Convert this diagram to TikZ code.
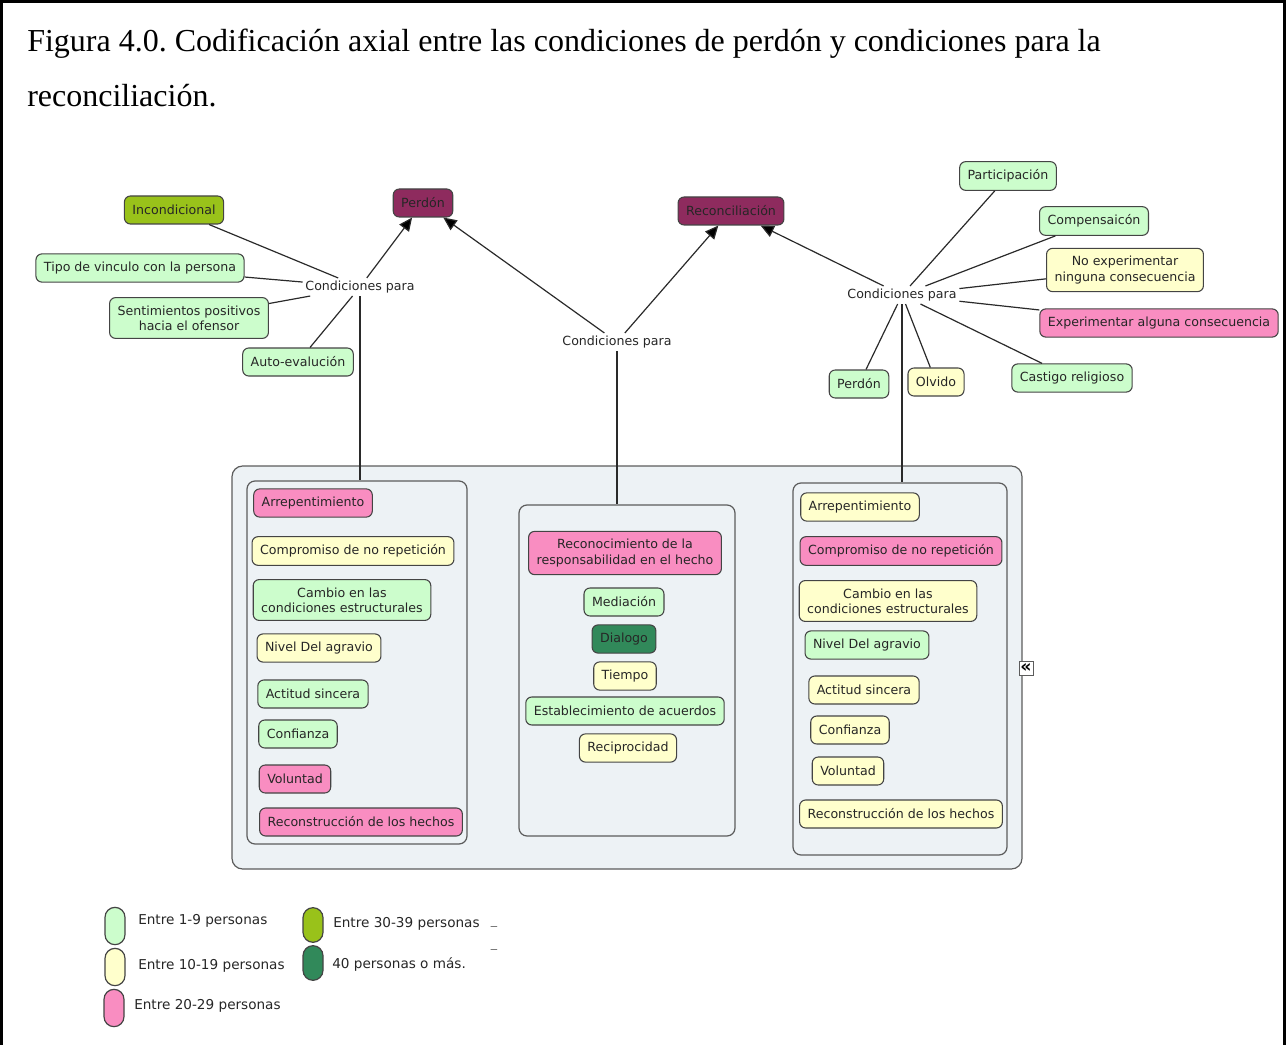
\documentclass[tikz,border=0pt]{standalone}
\usepackage{fontspec}
\setmainfont{Liberation Serif}
\newfontfamily\dv{DejaVu Sans}
\usetikzlibrary{arrows.meta,fit}
\frenchspacing

\definecolor{cgreen}{HTML}{CCFDCC}
\definecolor{cyellow}{HTML}{FFFFCC}
\definecolor{cpink}{HTML}{F98DC1}
\definecolor{cmag}{HTML}{8E2B5E}
\definecolor{colive}{HTML}{99C21A}
\definecolor{cdark}{HTML}{31895A}
\definecolor{boxline}{HTML}{444444}
\definecolor{linecol}{HTML}{2A2A2A}
\definecolor{grpfill}{HTML}{EDF2F5}
\definecolor{grpline}{HTML}{5C5C5C}

\tikzset{
  maptxt/.style={font=\dv\fontsize{9.45}{11.3}\selectfont, text=black!85},
  box/.style={maptxt, draw=boxline, line width=0.8pt, rounded corners=4.5pt,
    inner xsep=6pt, inner ysep=6pt, minimum height=21pt, align=center},
  bgreen/.style={box, fill=cgreen},
  byellow/.style={box, fill=cyellow},
  bpink/.style={box, fill=cpink},
  bmag/.style={box, fill=cmag},
  bolive/.style={box, fill=colive},
  bdark/.style={box, fill=cdark},
  lab/.style={maptxt, inner sep=2pt},
  link/.style={draw=linecol, line width=0.9pt},
  arr/.style={link, -{Triangle[length=10pt,width=9pt,fill=black]}},
  grp/.style={draw=grpline, fill=grpfill, rounded corners=6pt, line width=0.9pt, inner sep=0pt},
  legcap/.style={draw=boxline, line width=0.9pt, minimum width=15pt, minimum height=28pt, rounded corners=7.5pt, inner sep=0pt},
  legtxt/.style={maptxt, font=\dv\fontsize{10.2}{12}\selectfont, anchor=west, inner sep=0pt},
  ttl/.style={font=\fontsize{24}{24}\selectfont, anchor=base west, inner sep=0pt},
}

\begin{document}
\begin{tikzpicture}[x=0.75pt,y=-0.75pt]
\useasboundingbox (0,0) rectangle (1286,1045);

% outer frame (open at the bottom)
\draw[line width=2.2pt] (1.5,1046) -- (1.5,1.5) -- (1284.5,1.5) -- (1284.5,1046);

% caption
\node[ttl] (title1) at (27,52) {Figura 4.0. Codificación axial entre las condiciones de perdón y condiciones para la};
\node[ttl] (title2) at (27,107) {reconciliación.};

% container and the three groups of conditions
\node[grp, rounded corners=8pt, fit={(232,466) (1022,869)}] (cont) {};
\node[grp, fit={(247,481) (467,844)}] (lg) {};
\node[grp, fit={(519,505) (735,836)}] (mg) {};
\node[grp, fit={(793,483) (1007,855)}] (rg) {};
\node[draw=grpline, fill=white, line width=0.6pt, inner sep=0pt, minimum size=10.5pt, font=\dv\bfseries\fontsize{13}{13}\selectfont] (collapse) at (1026,668) {«};

% top concepts
\node[bmag] (perdon) at (423,203) {Perdón};
\node[bmag] (recon) at (731,211) {Reconciliación};

% linking labels
\node[lab] (lc) at (360,287) {Condiciones para};
\node[lab] (mc) at (617,342) {Condiciones para};
\node[lab] (rc) at (902,295) {Condiciones para};

% left cluster
\node[bolive] (incond) at (174,210) {Incondicional};
\node[bgreen] (tipo) at (140,268) {Tipo de vinculo con la persona};
\node[bgreen] (senti) at (189,318) {Sentimientos positivos\\hacia el ofensor};
\node[bgreen] (autoev) at (298,362) {Auto-evalución};

% right cluster
\node[bgreen] (partic) at (1008,176) {Participación};
\node[bgreen] (compens) at (1094,221) {Compensaicón};
\node[byellow] (noexp) at (1125,270) {No experimentar\\ninguna consecuencia};
\node[bpink] (exp) at (1159,323) {Experimentar alguna consecuencia};
\node[bgreen] (castigo) at (1072,378) {Castigo religioso};
\node[bgreen] (perdonr) at (859,384) {Perdón};
\node[byellow] (olvido) at (936,382) {Olvido};

% left group
\node[bpink] (l1) at (313,503) {Arrepentimiento};
\node[byellow] (l2) at (353,551) {Compromiso de no repetición};
\node[bgreen] (l3) at (342,600) {Cambio en las\\condiciones estructurales};
\node[byellow] (l4) at (319,648) {Nivel Del agravio};
\node[bgreen] (l5) at (313,694) {Actitud sincera};
\node[bgreen] (l6) at (298,734) {Confianza};
\node[bpink] (l7) at (295,779) {Voluntad};
\node[bpink] (l8) at (361,822) {Reconstrucción de los hechos};

% middle group
\node[bpink] (m1) at (625,553) {Reconocimiento de la\\responsabilidad en el hecho};
\node[bgreen] (m2) at (624,602) {Mediación};
\node[bdark] (m3) at (624,639) {Dialogo};
\node[byellow] (m4) at (625,676) {Tiempo};
\node[bgreen] (m5) at (625,711) {Establecimiento de acuerdos};
\node[byellow] (m6) at (628,748) {Reciprocidad};

% right group
\node[byellow] (r1) at (860,507) {Arrepentimiento};
\node[bpink] (r2) at (901,551) {Compromiso de no repetición};
\node[byellow] (r3) at (888,601) {Cambio en las\\condiciones estructurales};
\node[bgreen] (r4) at (867,645) {Nivel Del agravio};
\node[byellow] (r5) at (864,690) {Actitud sincera};
\node[byellow] (r6) at (850,730) {Confianza};
\node[byellow] (r7) at (848,771) {Voluntad};
\node[byellow] (r8) at (901,814) {Reconstrucción de los hechos};

% connectors: left
\draw[link] (incond) -- (lc);
\draw[link] (tipo) -- (lc);
\draw[link] (senti) -- (lc);
\draw[link] (autoev) -- (lc);
\draw[arr] (lc) -- (perdon);
\draw[link] (lc) -- (lc |- lg.north);

% connectors: middle
\draw[arr] (mc) -- (perdon);
\draw[arr] (mc) -- (recon);
\draw[link] (mc) -- (mc |- mg.north);

% connectors: right
\draw[arr] (rc) -- (recon);
\draw[link] (rc) -- (partic);
\draw[link] (rc) -- (compens);
\draw[link] (rc) -- (noexp);
\draw[link] (rc) -- (exp);
\draw[link] (rc) -- (castigo);
\draw[link] (rc) -- (perdonr);
\draw[link] (rc) -- (olvido);
\draw[link] (rc) -- (rc |- rg.north);

% legend
\node[legcap, fill=cgreen] (k1) at (115,926) {};
\node[legcap, fill=cyellow] (k2) at (115,967) {};
\node[legcap, fill=cpink] (k3) at (114,1008) {};
\node[legcap, fill=colive, minimum height=26pt] (k4) at (313,925) {};
\node[legcap, fill=cdark, minimum height=26pt] (k5) at (313,963) {};
\node[legtxt] (t1) at (138,921) {Entre 1-9 personas};
\node[legtxt] (t2) at (138,966) {Entre 10-19 personas};
\node[legtxt] (t3) at (134,1006) {Entre 20-29 personas};
\node[legtxt] (t4) at (333,924) {Entre 30-39 personas};
\node[legtxt] (t5) at (332,964) {40 personas o más.};
\node[maptxt, text=black!60, inner sep=0pt] (u1) at (494,926) {\_};
\node[maptxt, text=black!60, inner sep=0pt] (u2) at (494,949) {\_};
\end{tikzpicture}
\end{document}
